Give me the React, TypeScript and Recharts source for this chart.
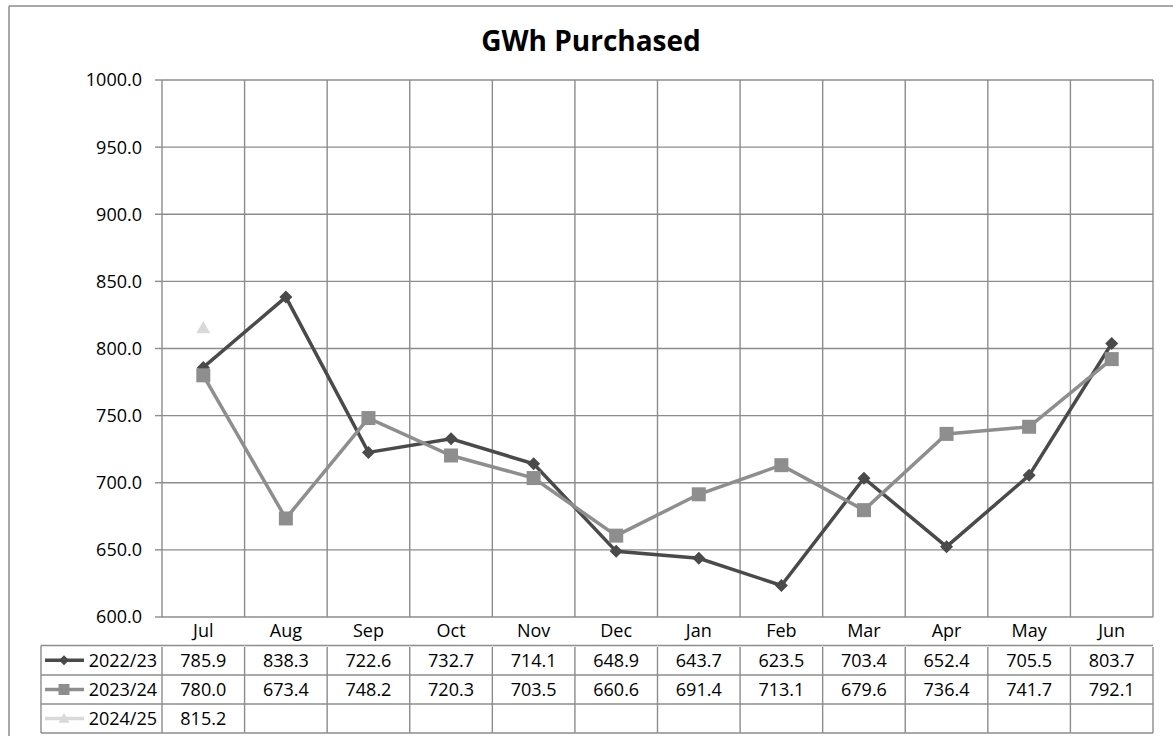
import React from 'react';
import { LineChart, Line, XAxis, YAxis, CartesianGrid } from 'recharts';

const months = ['Jul', 'Aug', 'Sep', 'Oct', 'Nov', 'Dec', 'Jan', 'Feb', 'Mar', 'Apr', 'May', 'Jun'];
const s2223: (number | null)[] = [785.9, 838.3, 722.6, 732.7, 714.1, 648.9, 643.7, 623.5, 703.4, 652.4, 705.5, 803.7];
const s2324: (number | null)[] = [780.0, 673.4, 748.2, 720.3, 703.5, 660.6, 691.4, 713.1, 679.6, 736.4, 741.7, 792.1];
const s2425: (number | null)[] = [815.2, null, null, null, null, null, null, null, null, null, null, null];
const seriesNames = ['2022/23', '2023/24', '2024/25'];
const yTicks = [600, 650, 700, 750, 800, 850, 900, 950, 1000];
const title = 'GWh Purchased';

const seriesValues = [s2223, s2324, s2425];
const colors = ['#4a4a4a', '#8e8e8e', '#d9d9d9'];
const GRID = '#8c8c8c';
const FONT = '"Open Sans", "Noto Sans", sans-serif';
const FS = 18;

const W = 1173;
const H = 736;
const PLOT_LEFT = 162;
const PLOT_RIGHT = 1153;
const PLOT_TOP = 80;
const PLOT_BOTTOM = 617;
const Y_AXIS_W = 80;
const BAND = (PLOT_RIGHT - PLOT_LEFT) / months.length;
const ROW_LINES = [645.5, 675, 704, 733];
const ROW_BASE = [637, 667, 696, 725];
const LEGEND_LEFT = 41;

const data = months.map((m, i) => ({
  x: i + 0.5,
  month: m,
  a: s2223[i],
  b: s2324[i],
  c: s2425[i],
}));

const centerTicks = months.map((_, i) => i + 0.5);
const boundaryTicks = months.map((_, i) => i).concat([months.length]);

function marker(kind: number, cx: number, cy: number, size: number, key?: string) {
  if (kind === 0) {
    return <polygon key={key} points={`${cx},${cy - size} ${cx + size},${cy} ${cx},${cy + size} ${cx - size},${cy}`} fill={colors[0]} />;
  }
  if (kind === 1) {
    return <rect key={key} x={cx - size} y={cy - size} width={size * 2} height={size * 2} fill={colors[1]} />;
  }
  return <polygon key={key} points={`${cx},${cy - size} ${cx + size},${cy + size * 0.75} ${cx - size},${cy + size * 0.75}`} fill={colors[2]} />;
}

const makeDot = (kind: number, size: number) => (props: any) => {
  const { cx, cy, value, index } = props;
  if (value == null || cx == null || cy == null || isNaN(cy)) return <g key={`d${kind}-${index}`} />;
  return <g key={`d${kind}-${index}`}>{marker(kind, cx, cy, size)}</g>;
};

const TableTick = (props: any) => {
  const { x, y, payload } = props;
  const i = Math.round(payload.value - 0.5);
  const left = x - BAND / 2;
  const right = x + BAND / 2;
  const els: React.ReactNode[] = [];
  els.push(<line key="vl" x1={left} x2={left} y1={y} y2={ROW_LINES[3]} stroke={GRID} strokeWidth={1.4} />);
  if (i === months.length - 1) {
    els.push(<line key="vr" x1={right} x2={right} y1={y} y2={ROW_LINES[3]} stroke={GRID} strokeWidth={1.4} />);
  }
  ROW_LINES.forEach((ry, k) => {
    els.push(<line key={`h${k}`} x1={left} x2={right} y1={ry} y2={ry} stroke={GRID} strokeWidth={1.4} />);
  });
  els.push(
    <text key="m" x={x} y={ROW_BASE[0]} textAnchor="middle" fontSize={FS} fontFamily={FONT} fill="#000">
      {months[i]}
    </text>
  );
  seriesValues.forEach((vals, k) => {
    const v = vals[i];
    if (v != null) {
      els.push(
        <text key={`v${k}`} x={x} y={ROW_BASE[k + 1]} textAnchor="middle" fontSize={FS} fontFamily={FONT} fill="#000">
          {v.toFixed(1)}
        </text>
      );
    }
  });
  if (i === 0) {
    els.push(<line key="ll" x1={LEGEND_LEFT} x2={LEGEND_LEFT} y1={ROW_LINES[0]} y2={ROW_LINES[3]} stroke={GRID} strokeWidth={1.4} />);
    ROW_LINES.forEach((ry, k) => {
      els.push(<line key={`lh${k}`} x1={LEGEND_LEFT} x2={left} y1={ry} y2={ry} stroke={GRID} strokeWidth={1.4} />);
    });
    seriesNames.forEach((name, k) => {
      const cy = (ROW_LINES[k] + ROW_LINES[k + 1]) / 2;
      els.push(<line key={`sl${k}`} x1={45} x2={84} y1={cy} y2={cy} stroke={colors[k]} strokeWidth={3.5} />);
      els.push(marker(k, 64, cy, k === 0 ? 5 : 5.5, `sm${k}`));
      els.push(
        <text key={`sn${k}`} x={157} y={ROW_BASE[k + 1]} textAnchor="end" fontSize={FS} fontFamily={FONT} fill="#000">
          {name}
        </text>
      );
    });
  }
  return <g>{els}</g>;
};

export default function App() {
  return (
    <div style={{ position: 'absolute', left: 0, top: 0, width: W, height: H, background: '#fff' }}>
      <LineChart
        width={W}
        height={H}
        data={data}
        margin={{ top: PLOT_TOP, right: W - PLOT_RIGHT, bottom: 0, left: PLOT_LEFT - Y_AXIS_W }}
      >
        <CartesianGrid xAxisId="grid" stroke={GRID} strokeWidth={1.4} />
        <XAxis xAxisId="grid" type="number" dataKey="x" domain={[0, months.length]} ticks={boundaryTicks} hide />
        <XAxis
          xAxisId="x"
          type="number"
          dataKey="x"
          domain={[0, months.length]}
          ticks={centerTicks}
          interval={0}
          height={H - PLOT_BOTTOM}
          axisLine={false}
          tickLine={false}
          tickSize={0}
          tickMargin={0}
          tick={<TableTick />}
        />
        <YAxis
          type="number"
          domain={[600, 1000]}
          ticks={yTicks}
          width={Y_AXIS_W}
          axisLine={false}
          tickSize={7}
          tickMargin={13}
          tickLine={{ stroke: GRID, strokeWidth: 1.4 }}
          tickFormatter={(v: number) => v.toFixed(1)}
          tick={{ fontSize: FS, fontFamily: FONT, fill: '#000' }}
          interval={0}
        />
        <Line
          xAxisId="x"
          dataKey="a"
          stroke={colors[0]}
          strokeWidth={3.5}
          dot={makeDot(0, 6.5)}
          activeDot={false}
          isAnimationActive={false}
        />
        <Line
          xAxisId="x"
          dataKey="b"
          stroke={colors[1]}
          strokeWidth={3.5}
          dot={makeDot(1, 7)}
          activeDot={false}
          isAnimationActive={false}
        />
        <Line
          xAxisId="x"
          dataKey="c"
          stroke={colors[2]}
          strokeWidth={3.5}
          dot={makeDot(2, 7)}
          activeDot={false}
          isAnimationActive={false}
        />
      </LineChart>
      <svg width={W} height={H} style={{ position: 'absolute', left: 0, top: 0, pointerEvents: 'none' }}>
        <line x1={9} x2={9} y1={6} y2={H} stroke={GRID} strokeWidth={1.5} />
        <line x1={9} x2={W} y1={6} y2={6} stroke={GRID} strokeWidth={1.5} />
        <text x={591} y={51} textAnchor="middle" fontSize={28} fontWeight="bold" fontFamily={FONT} fill="#000">
          {title}
        </text>
      </svg>
    </div>
  );
}
